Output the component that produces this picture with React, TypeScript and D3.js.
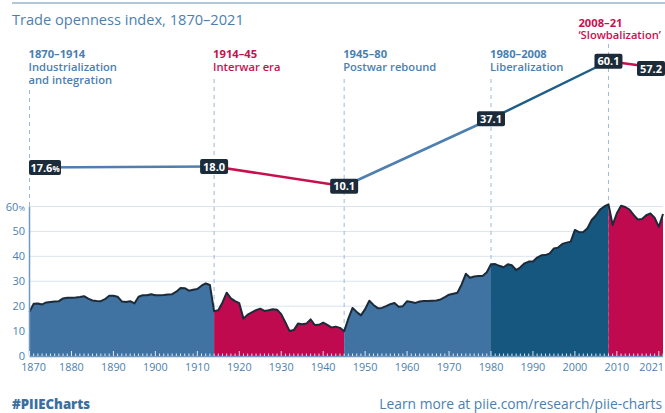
import React from "react";
import * as d3 from "d3";

// trade openness, % (one value per year starting 1870)
const firstYear = 1870;
const openness = [
  17.7, 21.0, 21.1, 20.7, 21.5, 21.7, 21.9, 22.0, 23.1, 23.4, // 1870s
  23.4, 23.5, 23.7, 24.0, 23.0, 22.3, 22.1, 22.0, 22.8, 24.2, // 1880s
  24.2, 23.8, 21.9, 21.7, 22.0, 21.1, 23.8, 24.4, 24.4, 24.8, // 1890s
  24.4, 24.4, 24.5, 24.7, 24.8, 25.8, 27.3, 27.2, 26.2, 26.6, // 1900s
  26.9, 28.2, 29.1, 28.5, 18.0, 18.4, 21.5, 25.4, 23.1, 22.0, // 1910s
  21.2, 15.0, 16.6, 17.5, 18.4, 19.0, 18.1, 18.4, 18.8, 18.6, // 1920s
  16.8, 13.5, 10.0, 10.4, 13.0, 12.7, 13.0, 14.7, 12.4, 12.5, // 1930s
  13.4, 12.5, 11.4, 11.8, 11.3, 9.9, 15.0, 19.3, 17.7, 16.3, // 1940s
  18.8, 22.2, 20.5, 19.2, 19.3, 20.0, 20.8, 21.3, 19.8, 20.0, // 1950s
  22.0, 21.7, 21.3, 21.9, 22.1, 22.1, 22.2, 22.3, 22.7, 23.6, // 1960s
  24.6, 25.0, 25.4, 28.7, 33.0, 31.4, 31.9, 32.1, 32.1, 33.6, // 1970s
  36.8, 36.9, 36.2, 35.6, 36.8, 36.4, 34.5, 35.6, 37.2, 37.9, // 1980s
  37.9, 39.5, 40.4, 40.5, 41.2, 43.2, 43.5, 45.0, 45.5, 45.9, // 1990s
  50.6, 49.7, 49.8, 51.3, 54.6, 56.4, 58.8, 60.0, 60.9, 52.6, // 2000s
  57.3, 60.3, 59.8, 58.8, 56.6, 54.8, 55.0, 56.5, 57.2, 55.5, // 2010s
  51.8, 57.0, // 2020s
];

// eras
const eraStarts = [1870, 1914, 1945, 1980, 2008];
const eraEnds = [1914, 1945, 1980, 2008, 2021];
const eraYears = ["1870–1914", "1914–45", "1945–80", "1980–2008", "2008–21"];
const eraNames = [
  ["Industrialization", "and integration"],
  ["Interwar era"],
  ["Postwar rebound"],
  ["Liberalization"],
  ["‘Slowbalization’"],
];

// era averages shown on the top line
const trendYears = [1870, 1914, 1945, 1980, 2008, 2021];
const trendValues = [17.6, 18.0, 10.1, 37.1, 60.1, 57.2];

const yTicks = [0, 10, 20, 30, 40, 50, 60];
const xLabelYears = [1870, 1880, 1890, 1900, 1910, 1920, 1930, 1940, 1950, 1960, 1970, 1980, 1990, 2000, 2010, 2021];

const W = 665;
const H = 413;
const FONT = "'Open Sans', 'Noto Sans', sans-serif";
const BLUE = "#4173a2";
const RED = "#c00a4f";
const DARK = "#15577f";
const NAVY = "#1c2b3a";
const TEXT_BLUE = "#4b7fb0";
const eraFill = [BLUE, RED, BLUE, DARK, RED];
const eraLine = ["#4d7fb0", "#c8104f", "#4d7fb0", "#1f5e88", "#c8104f"];
const eraText = [TEXT_BLUE, "#c8104f", TEXT_BLUE, TEXT_BLUE, "#c8104f"];

export default function App() {
  const data: [number, number][] = openness.map((v, i) => [firstYear + i, v]);

  const x = d3.scaleLinear().domain([1870, 2021]).range([29.5, 663]);
  const y = d3.scaleLinear().domain([0, 60]).range([356, 206.5]);
  const yTrend = d3.scaleLinear().domain([0, 60]).range([211.5, 61.5]);

  const area = d3
    .area<[number, number]>()
    .x((d) => x(d[0]))
    .y0(y(0))
    .y1((d) => y(d[1]));

  const outline = d3
    .line<[number, number]>()
    .x((d) => x(d[0]))
    .y((d) => y(d[1]));

  const trendLine = d3
    .line<[number, number]>()
    .x((d) => x(d[0]))
    .y((d) => yTrend(d[1]));

  const minorTicks = d3.range(1870, 2022);

  return (
    <svg
      width={W}
      height={H}
      style={{ position: "absolute", left: 0, top: 0, background: "#fff" }}
      fontFamily={FONT}
    >
      {/* top rule + title */}
      <line x1={12} x2={W} y1={3} y2={3} stroke="#b3c7db" strokeWidth={2} />
      <text x={12} y={25} fontSize={14.6} fill={TEXT_BLUE} fontWeight={500}>
        Trade openness index, 1870–2021
      </text>

      {/* gridlines */}
      {yTicks.slice(1).map((t) => (
        <line key={t} x1={x(1870)} x2={x(2021)} y1={y(t)} y2={y(t)} stroke="#dbe4ee" strokeWidth={1} />
      ))}

      {/* era dashed markers */}
      {eraStarts.map((s, i) => {
        const top = i === 4 ? 44 : eraNames[i].length > 1 ? 90 : 79;
        return (
          <line
            key={s}
            x1={x(s)}
            x2={x(s)}
            y1={top}
            y2={y(0)}
            stroke="#9db8d4"
            strokeWidth={1}
            strokeDasharray="4,4"
          />
        );
      })}

      {/* era areas */}
      {eraStarts.map((s, i) => (
        <path
          key={s}
          d={area(data.filter((d) => d[0] >= s && d[0] <= eraEnds[i])) || ""}
          fill={eraFill[i]}
        />
      ))}
      <path d={outline(data) || ""} fill="none" stroke={NAVY} strokeWidth={2} strokeLinejoin="round" />

      {/* x axis */}
      <line x1={x(1870)} x2={x(2021)} y1={y(0) + 0.5} y2={y(0) + 0.5} stroke="#6f98c2" strokeWidth={1.5} />
      <line x1={x(1870)} x2={x(1870)} y1={y(60)} y2={y(0)} stroke="#6f98c2" strokeWidth={1.5} />
      {minorTicks.map((yr) => (
        <line
          key={yr}
          x1={x(yr)}
          x2={x(yr)}
          y1={y(0)}
          y2={y(0) - (yr % 10 === 0 ? 5 : 2.5)}
          stroke="#fff"
          strokeWidth={1}
          opacity={0.85}
        />
      ))}
      {xLabelYears.map((yr, i) => {
        const last = i === xLabelYears.length - 1;
        return (
          <text
            key={yr}
            x={last ? W - 1 : x(yr) + (i === 0 ? 4 : 0)}
            y={371}
            fontSize={10.8}
            fill={TEXT_BLUE}
            textAnchor={last ? "end" : "middle"}
          >
            {yr}
          </text>
        );
      })}

      {/* y axis labels */}
      {yTicks.map((t) => (
        <text key={t} x={25} y={y(t) + 4} fontSize={11} fill={TEXT_BLUE} textAnchor="end">
          {t}
          {t === 60 ? <tspan fontSize={8}>%</tspan> : null}
        </text>
      ))}

      {/* era labels */}
      {eraStarts.map((s, i) => {
        const lx = i === 4 ? x(s) - 30 : x(s) - 1;
        const ly = i === 4 ? 27 : 58;
        const step = i === 4 ? 12 : 13;
        return (
          <g key={s} fill={eraText[i]} fontSize={11.2}>
            <text x={lx} y={ly} fontWeight={700}>
              {eraYears[i]}
            </text>
            {eraNames[i].map((n, j) => (
              <text key={n} x={lx} y={ly + step * (j + 1)} fontWeight={600}>
                {n}
              </text>
            ))}
          </g>
        );
      })}

      {/* top trend line, one coloured segment per era */}
      {trendYears.slice(0, -1).map((yr, i) => (
        <path
          key={yr}
          d={
            trendLine([
              [yr, trendValues[i]],
              [trendYears[i + 1], trendValues[i + 1]],
            ]) || ""
          }
          fill="none"
          stroke={eraLine[i]}
          strokeWidth={2.5}
        />
      ))}
      {trendYears.map((yr, i) => {
        const first = i === 0;
        const last = i === trendYears.length - 1;
        const label = trendValues[i].toFixed(1);
        const bw = first ? 32 : 28;
        const cx = x(yr);
        const bx = first ? cx - 0.5 : last ? W - bw : cx - bw / 2;
        const by = yTrend(trendValues[i]) - 7.5;
        return (
          <g key={yr}>
            <rect x={bx} y={by} width={bw} height={15} rx={2} fill={NAVY} />
            <text
              x={bx + bw / 2}
              y={by + 11.5}
              fontSize={11}
              fontWeight={700}
              fill="#fff"
              textAnchor="middle"
            >
              {label}
              {first ? <tspan fontSize={8}>%</tspan> : null}
            </text>
          </g>
        );
      })}

      {/* footer */}
      <text x={12} y={409} fontSize={13.2} fontWeight={800} fill="#3a6fa0">
        #PIIECharts
      </text>
      <text x={662} y={409} fontSize={13.8} fill={TEXT_BLUE} textAnchor="end">
        Learn more at piie.com/research/piie-charts
      </text>
    </svg>
  );
}
